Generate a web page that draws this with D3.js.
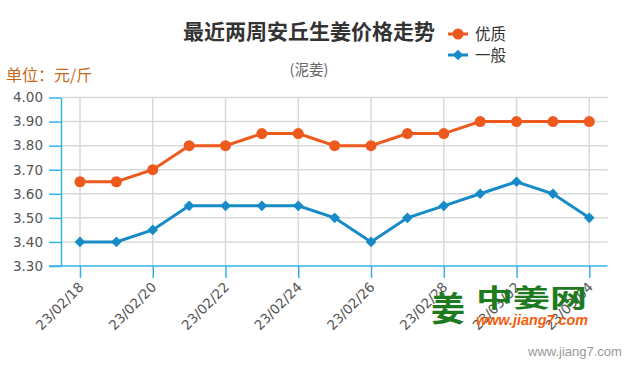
<!DOCTYPE html>
<html>
<head>
<meta charset="utf-8">
<script src="https://cdn.jsdelivr.net/npm/d3@7"></script>
<style>
  html, body { margin: 0; padding: 0; background: #fff; }
  svg { display: block; }
</style>
</head>
<body>
<svg id="chart" width="630" height="370"></svg>
<script>
const dates = ["23/02/18","23/02/19","23/02/20","23/02/21","23/02/22","23/02/23","23/02/24","23/02/25","23/02/26","23/02/27","23/02/28","23/03/01","23/03/02","23/03/03","23/03/04"];
const premium = [3.65,3.65,3.70,3.80,3.80,3.85,3.85,3.80,3.80,3.85,3.85,3.90,3.90,3.90,3.90];
const ordinary = [3.40,3.40,3.45,3.55,3.55,3.55,3.55,3.50,3.40,3.50,3.55,3.60,3.65,3.60,3.50];
const seriesNames = ["优质","一般"];
const yTicks = [3.30,3.40,3.50,3.60,3.70,3.80,3.90,4.00];
const xTickLabels = ["23/02/18","23/02/20","23/02/22","23/02/24","23/02/26","23/02/28","23/03/02","23/03/04"];
const titleText = "最近两周安丘生姜价格走势";
const subtitleText = "(泥姜)";
const unitText = "单位：元/斤";

const ORANGE = "#ee5a1e", BLUE = "#168bc8", AXIS = "#33b3e6", GRID = "#d9d9d9";
const svg = d3.select("#chart");
const plotL = 61, plotR = 607.5, plotT = 97.5, plotB = 266;

const x = d3.scalePoint().domain(dates).range([80, 589.3]);
const y = d3.scaleLinear().domain([3.3, 4.0]).range([plotB, plotT]);

// horizontal grid
svg.append("g").selectAll("line").data(yTicks.slice(1)).join("line")
  .attr("x1", plotL).attr("x2", plotR)
  .attr("y1", d => y(d)).attr("y2", d => y(d))
  .attr("stroke", GRID).attr("stroke-width", 1.5);
// vertical grid
svg.append("g").selectAll("line").data(xTickLabels).join("line")
  .attr("x1", d => x(d)).attr("x2", d => x(d))
  .attr("y1", plotT).attr("y2", plotB)
  .attr("stroke", GRID).attr("stroke-width", 1.5);

// y axis
const yAxis = svg.append("g").attr("transform", `translate(${plotL},0)`)
  .call(d3.axisLeft(y).tickValues(yTicks).tickFormat(d3.format(".2f")).tickSizeInner(12).tickSizeOuter(0).tickPadding(6));
yAxis.select(".domain").attr("stroke", AXIS).attr("stroke-width", 1.5);
yAxis.selectAll(".tick line").attr("stroke", AXIS).attr("stroke-width", 1.5);
yAxis.selectAll(".tick text").attr("fill", "#555").style("font-family", "DejaVu Sans").style("font-size", "13.5px");

// x axis
const xAxis = svg.append("g").attr("transform", `translate(0,${plotB})`)
  .call(d3.axisBottom(x).tickValues(xTickLabels).tickSizeInner(12).tickSizeOuter(0));
xAxis.select(".domain").remove();
xAxis.selectAll(".tick line").attr("stroke", AXIS).attr("stroke-width", 1.5);
xAxis.selectAll(".tick text")
  .attr("fill", "#555").style("font-family", "DejaVu Sans").style("font-size", "13.5px")
  .attr("text-anchor", "end").attr("dy", null).attr("y", 0)
  .attr("transform", "translate(4,22) rotate(-45)");
svg.append("line").attr("x1", 49).attr("x2", plotR).attr("y1", plotB).attr("y2", plotB)
  .attr("stroke", AXIS).attr("stroke-width", 1.5);

// lines
const line = d3.line().x((d, i) => x(dates[i])).y(d => y(d));
svg.append("path").datum(premium).attr("d", line).attr("fill", "none").attr("stroke", ORANGE).attr("stroke-width", 3);
svg.append("path").datum(ordinary).attr("d", line).attr("fill", "none").attr("stroke", BLUE).attr("stroke-width", 3);
svg.append("g").selectAll("circle").data(premium).join("circle")
  .attr("cx", (d, i) => x(dates[i])).attr("cy", d => y(d)).attr("r", 5.5).attr("fill", ORANGE);
const diamond = d3.symbol().type(d3.symbolDiamond2).size(72);
svg.append("g").selectAll("path").data(ordinary).join("path")
  .attr("transform", (d, i) => `translate(${x(dates[i])},${y(d)})`)
  .attr("d", diamond).attr("fill", BLUE);

// titles
svg.append("text").attr("x", 309).attr("y", 39).attr("text-anchor", "middle")
  .style("font-family", "Noto Sans CJK SC").style("font-weight", "bold").style("font-size", "21px")
  .attr("fill", "#333").text(titleText);
svg.append("text").attr("x", 309).attr("y", 75).attr("text-anchor", "middle")
  .style("font-family", "Noto Sans CJK SC").style("font-size", "14.5px")
  .attr("fill", "#666").text(subtitleText);
svg.append("text").attr("x", 6).attr("y", 80.5)
  .style("font-family", "Noto Sans CJK SC").style("font-size", "16px")
  .attr("fill", "#c8691c").text(unitText);

// legend
const leg = svg.append("g");
[[ORANGE, 34, "circle"], [BLUE, 55, "diamond"]].forEach((s, i) => {
  leg.append("line").attr("x1", 448).attr("x2", 468).attr("y1", s[1]).attr("y2", s[1])
    .attr("stroke", s[0]).attr("stroke-width", 3);
  if (s[2] === "circle") {
    leg.append("circle").attr("cx", 458).attr("cy", s[1]).attr("r", 5.5).attr("fill", s[0]);
  } else {
    leg.append("path").attr("transform", `translate(458,${s[1]})`).attr("d", diamond).attr("fill", s[0]);
  }
  leg.append("text").attr("x", 475).attr("y", s[1] + 6)
    .style("font-family", "Noto Sans CJK SC").style("font-size", "15.5px")
    .attr("fill", "#333").text(seriesNames[i]);
});

// watermark logo
const wm = svg.append("g");
wm.append("text").attr("x", 431).attr("y", 321)
  .style("font-family", "Noto Sans CJK SC").style("font-weight", "bold").style("font-size", "34px")
  .attr("fill", "#1e7a1e").text("姜");
wm.append("text").attr("x", 476).attr("y", 307).attr("textLength", 111).attr("lengthAdjust", "spacingAndGlyphs")
  .style("font-family", "Noto Sans CJK SC").style("font-weight", "bold").style("font-size", "25px")
  .attr("fill", "#1e7a1e").text("中姜网");
wm.append("text").attr("x", 476).attr("y", 325).attr("textLength", 112).attr("lengthAdjust", "spacingAndGlyphs")
  .style("font-family", "Liberation Sans").style("font-weight", "bold").style("font-style", "italic").style("font-size", "14px")
  .attr("fill", "#f2600f").text("www.jiang7.com");
wm.append("text").attr("x", 528).attr("y", 356)
  .style("font-family", "Liberation Sans").style("font-size", "13px")
  .attr("fill", "#999").text("www.jiang7.com");
</script>
</body>
</html>
